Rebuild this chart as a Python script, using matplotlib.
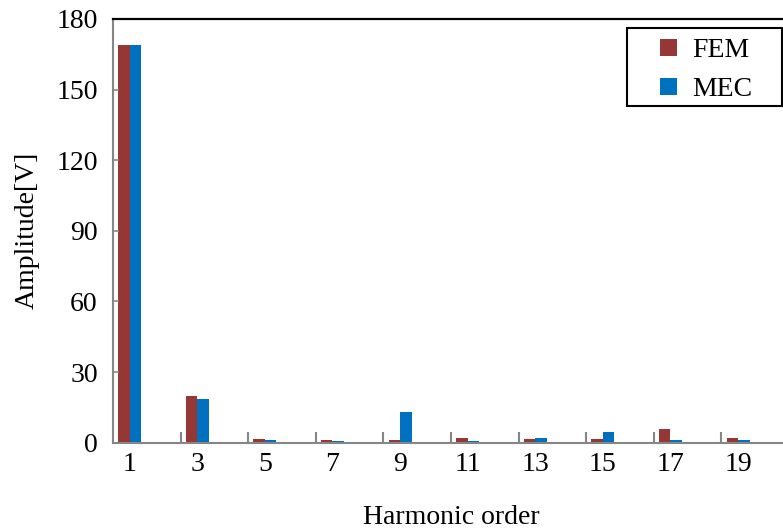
import matplotlib

matplotlib.use("Agg")
import matplotlib.pyplot as plt
import numpy as np
from matplotlib.legend_handler import HandlerPatch
from matplotlib.patches import Rectangle

ORDERS = ["1", "3", "5", "7", "9", "11", "13", "15", "17", "19"]
FEM = [169.0, 19.7, 1.7, 1.2, 1.0, 1.8, 1.6, 1.6, 5.8, 2.2]
MEC = [169.0, 18.4, 1.3, 0.8, 13.0, 0.8, 2.2, 4.5, 1.2, 1.3]
Y_TICKS = [0, 30, 60, 90, 120, 150, 180]

FEM_COLOR = "#953735"
MEC_COLOR = "#0070C0"
GRAY = "#868686"

plt.rcParams["font.family"] = ["Liberation Serif", "DejaVu Serif"]
plt.rcParams["font.size"] = 20


def square_handle(legend, orig_handle, xdescent, ydescent, width, height, fontsize):
    side = height * 0.85
    return Rectangle((width - side - xdescent, -ydescent + (height - side) / 2), side, side)


def main():
    fig = plt.figure(figsize=(7.83, 5.30), dpi=100)
    ax = fig.add_axes([0.1443, 0.1647, 0.8633, 0.7995])

    idx = np.arange(len(ORDERS))
    centers = idx + 0.247
    width = 0.17
    fem_bars = ax.bar(centers - width / 2, FEM, width, color=FEM_COLOR)
    mec_bars = ax.bar(centers + width / 2, MEC, width, color=MEC_COLOR)

    ax.set_xlim(0, len(ORDERS))
    ax.set_ylim(0, 180)
    ax.set_yticks(Y_TICKS)

    # category labels sit under each bar pair, tick marks on category boundaries
    ax.set_xticks(idx[1:], minor=False)
    ax.set_xticklabels([])
    ax.set_xticks(centers, minor=True)
    ax.set_xticklabels(ORDERS, minor=True)
    ax.tick_params(axis="x", which="major", direction="in", length=8, color=GRAY, width=1.5)
    ax.tick_params(axis="x", which="minor", length=0, pad=7)
    ax.tick_params(axis="y", direction="in", length=4, color=GRAY, width=1.2, pad=11)

    for side in ("left", "bottom"):
        ax.spines[side].set_color(GRAY)
        ax.spines[side].set_linewidth(1.5)
    ax.spines["top"].set_color("black")
    ax.spines["top"].set_linewidth(1.6)
    ax.spines["right"].set_visible(False)

    ax.set_xlabel("Harmonic order", labelpad=20)
    ax.set_ylabel("Amplitude[V]", labelpad=12)

    # legend box drawn separately so it can be wider than the entries
    box = Rectangle(
        (627 / 783, 1 - 106 / 530), 155 / 783, 78 / 530,
        transform=fig.transFigure, facecolor="white", edgecolor="black",
        linewidth=1.5, zorder=5,
    )
    fig.patches.append(box)
    leg = fig.legend(
        [fem_bars.patches[0], mec_bars.patches[0]],
        ["FEM", "MEC"],
        loc="upper left",
        bbox_to_anchor=(628 / 783, 1 - 35 / 530),
        borderaxespad=0,
        frameon=False,
        handler_map={Rectangle: HandlerPatch(patch_func=square_handle)},
        handlelength=1.65,
        handleheight=0.7,
        handletextpad=0.55,
        borderpad=0.1,
        labelspacing=0.48,
        fontsize=20,
    )
    leg.set_zorder(6)

    fig.savefig("out.png", dpi=100)


if __name__ == "__main__":
    main()
